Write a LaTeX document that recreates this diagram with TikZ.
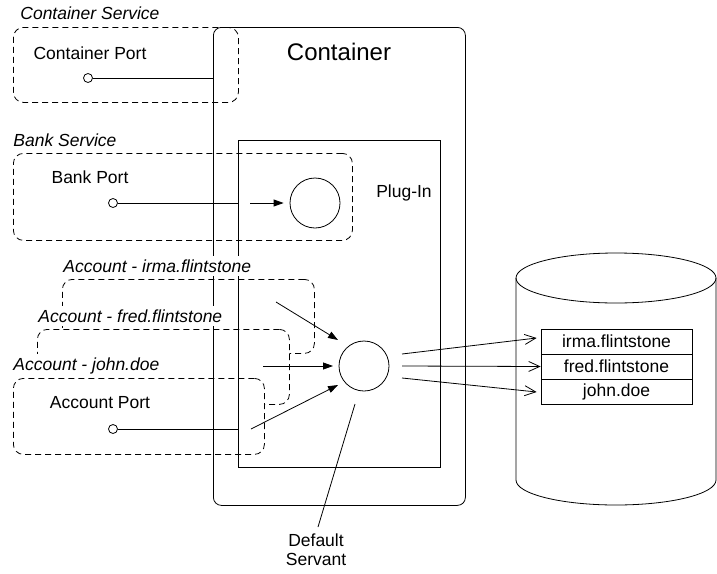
\documentclass[tikz,border=0pt]{standalone}
\usepackage{fontspec}
\setmainfont{Liberation Sans}
\usepackage{tikz}
\usetikzlibrary{positioning, arrows.meta, calc}

\begin{document}
\begin{tikzpicture}[
    x=1pt, y=-1pt, line width=0.8pt,
    every node/.style={align=center, font=\fontsize{17.5}{20}\selectfont},
    service/.style={draw, dash pattern=on 6pt off 4pt, rounded corners=10pt, anchor=north west, inner sep=0pt},
    account/.style={service, fill=white},
    svclabel/.style={anchor=west, font=\fontsize{17.5}{20}\selectfont\itshape, fill=white, inner xsep=1pt, inner ysep=4pt},
    port/.style={circle, draw, fill=white, minimum size=9pt, inner sep=0pt},
    object/.style={circle, draw, minimum size=50pt, inner sep=0pt},
    rowbox/.style={draw, minimum width=151pt, minimum height=25pt, inner sep=0pt},
    solidarrow/.style={-{Triangle[length=10pt,width=7pt]}},
    openarrow/.style={-{Straight Barb[length=11pt,width=10pt]}}
]
    \useasboundingbox (0,0) rectangle (717,573);

    % service boxes
    \node[service, minimum width=225pt, minimum height=75pt] (csvc) at (13,27) {};
    \node[service, minimum width=339pt, minimum height=87pt] (bsvc) at (13,153) {};
    \node[account, minimum width=252pt, minimum height=74pt] (irmasvc) at (62,279) {};
    \node[account, minimum width=252pt, minimum height=75pt] (fredsvc) at (37,329) {};
    \node[account, minimum width=251pt, minimum height=76pt] (johnsvc) at (13,378) {};

    % container and plug-in
    \node[draw, rounded corners=8pt, anchor=north west, minimum width=252pt, minimum height=478pt] (container) at (213,27) {};
    \node[draw, anchor=north west, minimum width=202pt, minimum height=327pt] (plugin) at (238,140) {};
    \node[font=\fontsize{24}{28}\selectfont] (ctitle) at (339,52) {Container};
    \node (pluglbl) at (404,193) {Plug-In};

    % labels
    \node[svclabel] (csvclbl) at (19,13) {Container Service};
    \node[svclabel] (bsvclbl) at (12,140) {Bank Service};
    \node[svclabel] (irmalbl) at (62,266) {Account - irma.flintstone};
    \node[svclabel] (fredlbl) at (37,316) {Account - fred.flintstone};
    \node[svclabel] (johnlbl) at (12,366) {Account - john.doe};

    \node (cportlbl) at (90,53) {Container Port};
    \node (bportlbl) at (90,177) {Bank Port};
    \node (aportlbl) at (100,403) {Account Port};

    % ports
    \node[port] (cport) at (88,78) {};
    \node[port] (bport) at (113,203) {};
    \node[port] (aport) at (113,429) {};
    \draw (cport) -- (cport -| container.west);
    \draw (bport) -- (bport -| plugin.west);
    \draw (aport) -- (aport -| plugin.west);

    % servants
    \node[object] (bankobj) at (315,203) {};
    \node[object] (servant) at (364,366) {};
    \coordinate (bankin) at (250,203);
    \draw[solidarrow] (bankin) -- ([shift={(-6,0)}]bankobj.west);

    \coordinate (irmain) at (276,302);
    \coordinate (fredin) at (263,366);
    \coordinate (johnin) at (251,429);
    \draw[solidarrow] (irmain) -- ([shift={(-26,-26)}]servant.center);
    \draw[solidarrow] (fredin) -- ([shift={(-31,0)}]servant.center);
    \draw[solidarrow] (johnin) -- ([shift={(-26,19)}]servant.center);

    \node[font=\fontsize{17.5}{19}\selectfont] (dslbl) at (316,550) {Default\\Servant};
    \coordinate (dstop) at (318,527);
    \draw ([shift={(-9,38)}]servant.center) -- (dstop);

    % database
    \draw (516,278) -- (516,480) arc[start angle=180, end angle=360, x radius=100pt, y radius=25pt] -- (716,278);
    \draw (616,278) ellipse [x radius=100pt, y radius=25pt];
    \node[rowbox] (irmarow) at (616.5,341.5) {irma.flintstone};
    \node[rowbox] (fredrow) at (616.5,366.5) {fred.flintstone};
    \node[rowbox] (johnrow) at (616.5,391.5) {john.doe};

    \draw[openarrow] ([shift={(38,-12)}]servant.center) -- ([shift={(-4,-3.5)}]irmarow.west);
    \draw[openarrow] ([shift={(38,0)}]servant.center) -- (fredrow.west);
    \draw[openarrow] ([shift={(38,12)}]servant.center) -- ([shift={(-4,0.5)}]johnrow.west);
\end{tikzpicture}
\end{document}
